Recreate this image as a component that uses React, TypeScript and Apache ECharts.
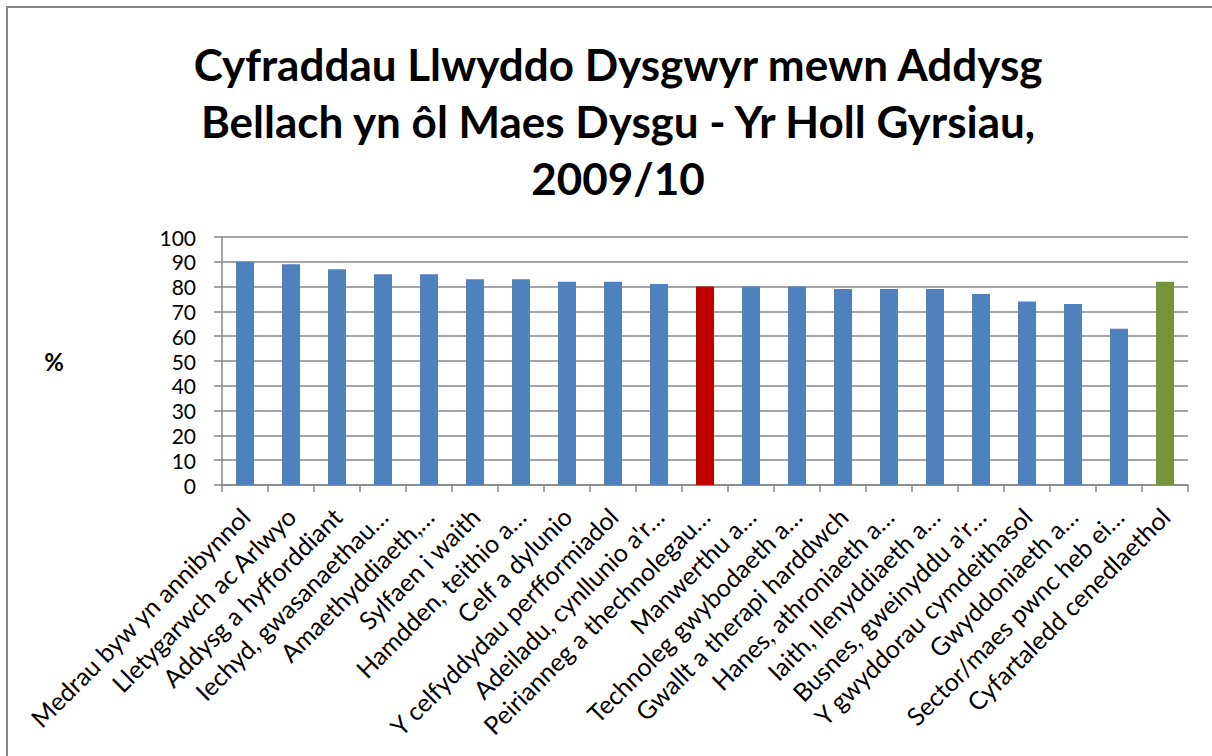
import React, { useEffect, useRef } from "react";
import * as echarts from "echarts";

const titleLines = [
  "Cyfraddau Llwyddo Dysgwyr mewn Addysg",
  "Bellach yn ôl Maes Dysgu - Yr Holl Gyrsiau,",
  "2009/10",
];

const categories = [
  "Medrau byw yn annibynnol",
  "Lletygarwch ac Arlwyo",
  "Addysg a hyfforddiant",
  "Iechyd, gwasanaethau…",
  "Amaethyddiaeth,…",
  "Sylfaen i waith",
  "Hamdden, teithio a…",
  "Celf a dylunio",
  "Y celfyddydau perfformiadol",
  "Adeiladu, cynllunio a'r…",
  "Peirianneg a thechnolegau…",
  "Manwerthu a…",
  "Technoleg gwybodaeth a…",
  "Gwallt a therapi harddwch",
  "Hanes, athroniaeth a…",
  "Iaith, llenyddiaeth a…",
  "Busnes, gweinyddu a'r…",
  "Y gwyddorau cymdeithasol",
  "Gwyddoniaeth a…",
  "Sector/maes pwnc heb ei…",
  "Cyfartaledd cenedlaethol",
];

const values = [90, 89, 87, 85, 85, 83, 83, 82, 82, 81, 80, 80, 80, 79, 79, 79, 77, 74, 73, 63, 82];

const highlightRed = "Peirianneg a thechnolegau…";
const highlightGreen = "Cyfartaledd cenedlaethol";

const yAxisName = "%";

const BLUE = "#4f81bd";
const RED = "#c00000";
const GREEN = "#77933c";
const GRID = "#868686";

export default function App() {
  const ref = useRef<HTMLDivElement>(null);

  useEffect(() => {
    if (!ref.current) return;
    const chart = echarts.init(ref.current, undefined, { renderer: "svg" });
    const data = values.map((v, i) => ({
      value: v,
      itemStyle: {
        color:
          categories[i] === highlightRed
            ? RED
            : categories[i] === highlightGreen
            ? GREEN
            : BLUE,
      },
    }));
    chart.setOption({
      animation: false,
      backgroundColor: "#ffffff",
      title: {
        text: titleLines.join("\n"),
        left: 613,
        top: 30,
        textAlign: "center",
        textStyle: {
          fontFamily: "Lato",
          fontWeight: "bold",
          fontSize: 44,
          lineHeight: 57,
          color: "#000000",
        },
      },
      graphic: [
        {
          type: "rect",
          shape: { x: 7, y: 7, width: 1300, height: 900 },
          style: { fill: "none", stroke: GRID, lineWidth: 2 },
          silent: true,
        },
      ],
      grid: { left: 222, right: 24, top: 237, bottom: 271, containLabel: false },
      xAxis: {
        type: "category",
        data: categories,
        boundaryGap: true,
        axisLine: { show: true, lineStyle: { color: GRID, width: 1.5 } },
        axisTick: { show: true, length: 7, alignWithLabel: false, lineStyle: { color: GRID, width: 1.5 } },
        axisLabel: {
          interval: 0,
          rotate: 45,
          margin: 27,
          fontFamily: "Lato",
          fontSize: 25,
          color: "#000000",
        },
      },
      yAxis: {
        type: "value",
        min: 0,
        max: 100,
        interval: 10,
        name: yAxisName,
        nameLocation: "middle",
        nameRotate: 0,
        nameGap: 158,
        nameTextStyle: { fontFamily: "Lato", fontWeight: "bold", fontSize: 24, color: "#000000" },
        axisLine: { show: true, lineStyle: { color: GRID, width: 1.5 } },
        axisTick: { show: true, length: 8, lineStyle: { color: GRID, width: 1.5 } },
        splitLine: { show: true, lineStyle: { color: GRID, width: 1.5 } },
        axisLabel: {
          margin: 26,
          fontFamily: "Lato",
          fontSize: 21,
          color: "#000000",
        },
      },
      series: [
        {
          type: "bar",
          data,
          barWidth: 18,
        },
      ],
    });
    return () => chart.dispose();
  }, []);

  return (
    <div
      ref={ref}
      style={{ position: "fixed", left: 0, top: 0, width: 1212, height: 756 }}
    />
  );
}
